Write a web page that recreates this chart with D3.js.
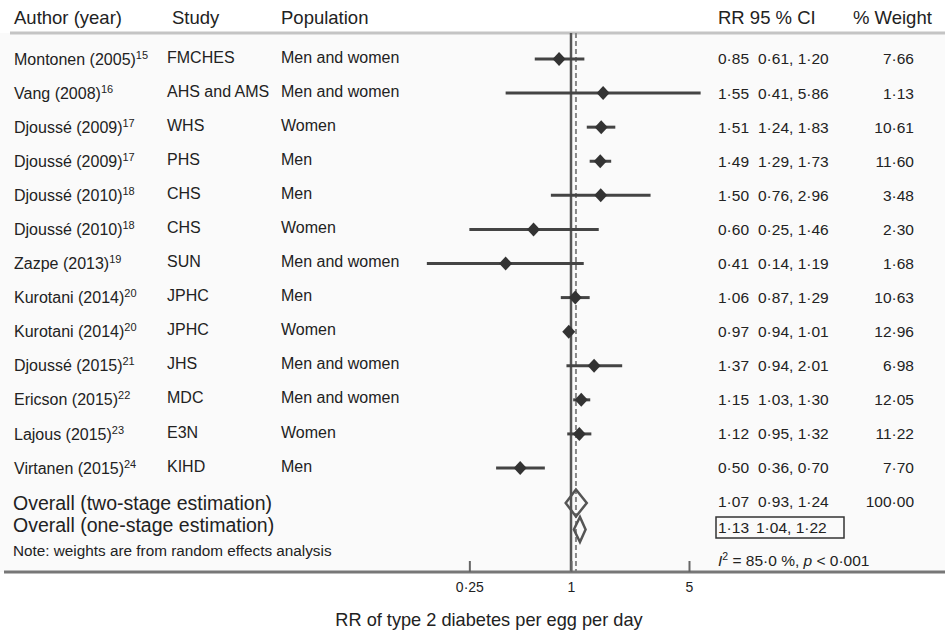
<!DOCTYPE html>
<html>
<head>
<meta charset="utf-8">
<script src="https://cdn.jsdelivr.net/npm/d3@7"></script>
<style>
  body { margin: 0; background: #ffffff; }
  svg { display: block; font-family: "Liberation Sans", Arial, Helvetica, sans-serif; }
</style>
</head>
<body>
<svg id="chart" width="945" height="635"></svg>
<script>
// study rows
var authors = ["Montonen (2005)", "Vang (2008)", "Djoussé (2009)", "Djoussé (2009)", "Djoussé (2010)",
    "Djoussé (2010)", "Zazpe (2013)", "Kurotani (2014)", "Kurotani (2014)", "Djoussé (2015)",
    "Ericson (2015)", "Lajous (2015)", "Virtanen (2015)"];
var refs = ["15", "16", "17", "17", "18", "18", "19", "20", "20", "21", "22", "23", "24"];
var studies = ["FMCHES", "AHS and AMS", "WHS", "PHS", "CHS", "CHS", "SUN", "JPHC", "JPHC", "JHS", "MDC", "E3N", "KIHD"];
var populations = ["Men and women", "Men and women", "Women", "Men", "Men", "Women", "Men and women",
    "Men", "Women", "Men and women", "Men and women", "Women", "Men"];
var rr = [0.85, 1.55, 1.51, 1.49, 1.50, 0.60, 0.41, 1.06, 0.97, 1.37, 1.15, 1.12, 0.50];
var lo = [0.61, 0.41, 1.24, 1.29, 0.76, 0.25, 0.14, 0.87, 0.94, 0.94, 1.03, 0.95, 0.36];
var hi = [1.20, 5.86, 1.83, 1.73, 2.96, 1.46, 1.19, 1.29, 1.01, 2.01, 1.30, 1.32, 0.70];
var weights = [7.66, 1.13, 10.61, 11.60, 3.48, 2.30, 1.68, 10.63, 12.96, 6.98, 12.05, 11.22, 7.70];

// pooled estimates
var overallLabels = ["Overall (two-stage estimation)", "Overall (one-stage estimation)"];
var overallRR = [1.07, 1.13];
var overallLo = [0.93, 1.04];
var overallHi = [1.24, 1.22];
var overallWeight = "100·00";

var tickValues = [0.25, 1, 5];
var headers = ["Author (year)", "Study", "Population", "RR 95 % CI", "% Weight"];

function fmt(v, n) {
    return v.toFixed(n === undefined ? 2 : n).replace(".", "·");
}

var svg = d3.select("#chart");
var W = 945, AXIS_Y = 572, TOP_Y = 33;

var xScale = d3.scaleLog().domain([1, 5]).range([571, 689]);
var yScale = d3.scalePoint().domain(d3.range(authors.length)).range([59, 468]);

var COL_STUDY = 167, COL_POP = 281, COL_RR = 718, COL_CI = 758, COL_W = 914;

// background panel
svg.append("rect").attr("x", 0).attr("y", TOP_Y).attr("width", W).attr("height", AXIS_Y - TOP_Y)
    .attr("fill", "#fafafa");

// header
var headX = [14, 172, 281, 718, 853];
svg.selectAll(".head").data(headers).enter().append("text")
    .attr("x", function (d, i) { return headX[i]; })
    .attr("y", 18).attr("dy", "0.35em")
    .attr("font-size", 18.5).attr("fill", "#222")
    .text(function (d) { return d; });

svg.append("line").attr("x1", 10).attr("x2", W).attr("y1", TOP_Y).attr("y2", TOP_Y)
    .attr("stroke", "#c4c4c4").attr("stroke-width", 3);

// reference lines
svg.append("line").attr("x1", xScale(1)).attr("x2", xScale(1)).attr("y1", TOP_Y).attr("y2", AXIS_Y)
    .attr("stroke", "#555").attr("stroke-width", 2.5);
svg.append("line").attr("x1", xScale(overallRR[0])).attr("x2", xScale(overallRR[0]))
    .attr("y1", TOP_Y).attr("y2", AXIS_Y)
    .attr("stroke", "#888").attr("stroke-width", 2).attr("stroke-dasharray", "5,3");

// rows
var rows = svg.selectAll(".row").data(d3.range(authors.length)).enter().append("g")
    .attr("class", "row")
    .attr("transform", function (i) { return "translate(0," + yScale(i) + ")"; });

var au = rows.append("text").attr("x", 14).attr("dy", "0.35em").attr("font-size", 16).attr("fill", "#222");
au.append("tspan").text(function (i) { return authors[i]; });
au.append("tspan").attr("dy", -6).attr("font-size", 11).text(function (i) { return refs[i]; });

rows.append("text").attr("x", COL_STUDY).attr("y", -2).attr("dy", "0.35em").attr("font-size", 16).attr("fill", "#222")
    .text(function (i) { return studies[i]; });
rows.append("text").attr("x", COL_POP).attr("y", -2).attr("dy", "0.35em").attr("font-size", 16).attr("fill", "#222")
    .text(function (i) { return populations[i]; });
rows.append("text").attr("x", COL_RR).attr("dy", "0.35em").attr("font-size", 15.5).attr("fill", "#222")
    .text(function (i) { return fmt(rr[i]); });
rows.append("text").attr("x", COL_CI).attr("dy", "0.35em").attr("font-size", 15.5).attr("fill", "#222")
    .text(function (i) { return fmt(lo[i]) + ", " + fmt(hi[i]); });
rows.append("text").attr("x", COL_W).attr("dy", "0.35em").attr("font-size", 15.5).attr("fill", "#222")
    .attr("text-anchor", "end")
    .text(function (i) { return fmt(weights[i]); });

// CI bars and point estimates
rows.append("line")
    .attr("x1", function (i) { return xScale(lo[i]); })
    .attr("x2", function (i) { return xScale(hi[i]); })
    .attr("stroke", "#444").attr("stroke-width", 3);
rows.append("path")
    .attr("d", function (i) {
        var cx = xScale(rr[i]);
        return "M" + (cx - 6.5) + ",0L" + cx + ",-7L" + (cx + 6.5) + ",0L" + cx + ",7Z";
    })
    .attr("fill", "#333");

// overall rows
var overallY = [503, 525];
var diamondY = [503, 529.5];
var diamondH = [13.5, 12.5];
overallLabels.forEach(function (lab, k) {
    svg.append("text").attr("x", 13).attr("y", overallY[k]).attr("dy", "0.35em")
        .attr("font-size", 19.5).attr("fill", "#222").text(lab);
    svg.append("path")
        .attr("d", "M" + xScale(overallLo[k]) + "," + diamondY[k] +
            "L" + xScale(overallRR[k]) + "," + (diamondY[k] - diamondH[k]) +
            "L" + xScale(overallHi[k]) + "," + diamondY[k] +
            "L" + xScale(overallRR[k]) + "," + (diamondY[k] + diamondH[k]) + "Z")
        .attr("fill", "none").attr("stroke", "#555").attr("stroke-width", 2.5);
});

svg.append("text").attr("x", COL_RR).attr("y", 502).attr("dy", "0.35em").attr("font-size", 15.5).attr("fill", "#222")
    .text(fmt(overallRR[0]));
svg.append("text").attr("x", COL_CI).attr("y", 502).attr("dy", "0.35em").attr("font-size", 15.5).attr("fill", "#222")
    .text(fmt(overallLo[0]) + ", " + fmt(overallHi[0]));
svg.append("text").attr("x", COL_W).attr("y", 502).attr("dy", "0.35em").attr("font-size", 15.5).attr("fill", "#222")
    .attr("text-anchor", "end").text(overallWeight);

// boxed one-stage estimate
svg.append("rect").attr("x", 716).attr("y", 517).attr("width", 128).attr("height", 21)
    .attr("fill", "none").attr("stroke", "#333").attr("stroke-width", 1.5);
svg.append("text").attr("x", 718).attr("y", 527.5).attr("dy", "0.35em").attr("font-size", 15.5).attr("fill", "#222")
    .text(fmt(overallRR[1]));
svg.append("text").attr("x", COL_CI - 2).attr("y", 527.5).attr("dy", "0.35em").attr("font-size", 15.5).attr("fill", "#222")
    .text(fmt(overallLo[1]) + ", " + fmt(overallHi[1]));

// note and heterogeneity
svg.append("text").attr("x", 13).attr("y", 551).attr("dy", "0.35em").attr("font-size", 15.3).attr("fill", "#222")
    .text("Note: weights are from random effects analysis");
var het = svg.append("text").attr("x", 718).attr("y", 561).attr("dy", "0.35em").attr("font-size", 15.5).attr("fill", "#222");
het.append("tspan").attr("font-style", "italic").text("I");
het.append("tspan").attr("dy", -6).attr("font-size", 10.5).text("2");
het.append("tspan").attr("dy", 6).text(" = 85·0 %, ");
het.append("tspan").attr("font-style", "italic").text("p");
het.append("tspan").text(" < 0·001");

// axis
svg.append("line").attr("x1", 4).attr("x2", W).attr("y1", AXIS_Y).attr("y2", AXIS_Y)
    .attr("stroke", "#777").attr("stroke-width", 3);

var xAxis = d3.axisBottom(xScale)
    .tickValues(tickValues)
    .tickSizeInner(-11)
    .tickSizeOuter(0)
    .tickPadding(10)
    .tickFormat(function (d) { return String(d).replace(".", "·"); });

var axisG = svg.append("g").attr("transform", "translate(0," + AXIS_Y + ")").call(xAxis);
axisG.select(".domain").remove();
axisG.selectAll(".tick line").attr("stroke", "#666").attr("stroke-width", 2);
axisG.selectAll(".tick text").attr("font-size", 14).attr("fill", "#222")
    .attr("font-family", "'Liberation Sans', Arial, sans-serif");

svg.append("text").attr("x", 489).attr("y", 620).attr("dy", "0.35em").attr("text-anchor", "middle")
    .attr("font-size", 18.2).attr("fill", "#222")
    .text("RR of type 2 diabetes per egg per day");
</script>
</body>
</html>
